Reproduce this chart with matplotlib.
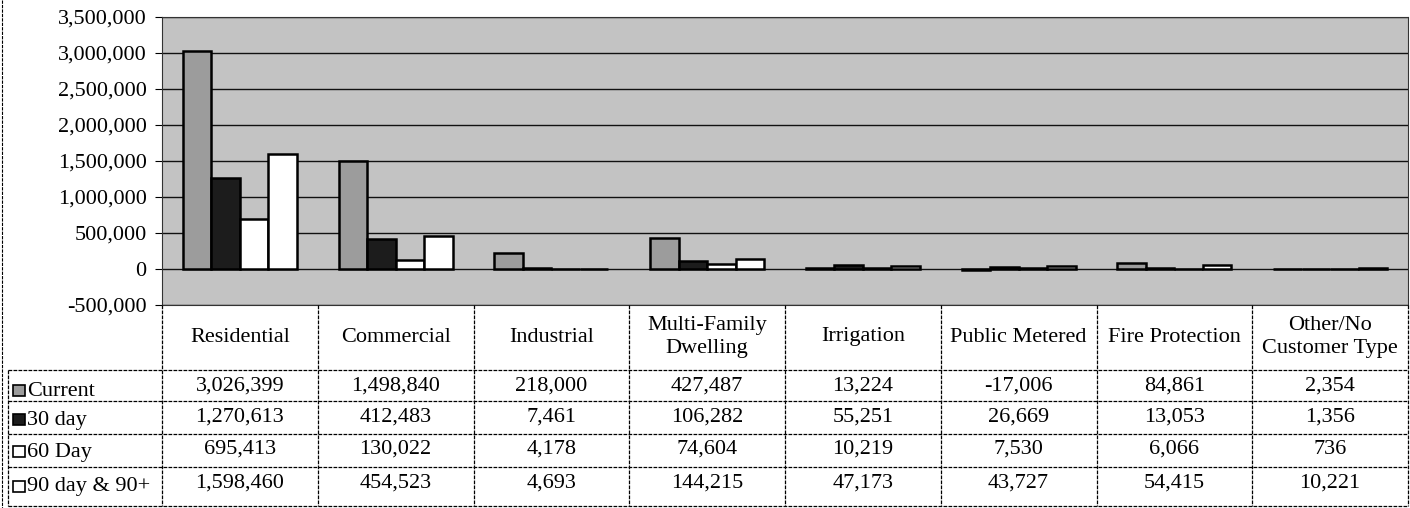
import matplotlib.pyplot as plt
import numpy as np
from matplotlib.patches import Rectangle
from matplotlib.lines import Line2D

# ---------------------------------------------------------------------
# Data.
# ---------------------------------------------------------------------

CATEGORIES = ["Residential", "Commercial", "Industrial", "Multi-Family\nDwelling",
              "Irrigation", "Public Metered", "Fire Protection",
              "Other/No\nCustomer Type"]
SERIES = ["Current", "30 day", "60 Day", "90 day & 90+"]

current = [3026399, 1498840, 218000, 427487, 13224, -17006, 84861, 2354]
day_30 = [1270613, 412483, 7461, 106282, 55251, 26669, 13053, 1356]
day_60 = [695413, 130022, 4178, 74604, 10219, 7530, 6066, 736]
day_90 = [1598460, 454523, 4693, 144215, 47173, 43727, 54415, 10221]

Y_TICKS = list(range(-500000, 3500001, 500000))

# Fill per series (grayscale print look).
FACES = ["#9c9c9c", "#1c1c1c", "#ffffff", "#ffffff"]

W, H = 1410, 508
FONT = "Liberation Serif"
FS = 16


def fx(x):
    return x / W


def fy(y):
    return 1 - y / H


fig = plt.figure(figsize=(W / 100, H / 100), dpi=100)
fig.patch.set_facecolor("white")

# plot area (pixel box)
L, R, T, B = 162, 1408, 17, 305
ax = fig.add_axes([fx(L), fy(B), fx(R) - fx(L), (B - T) / H])
ax.set_facecolor("#c3c3c3")

values = [current, day_30, day_60, day_90]
x = np.arange(len(CATEGORIES))
bw = 0.183
for j, vals in enumerate(values):
    ax.bar(x + (j - 1.5) * bw, vals, width=bw, color=FACES[j],
           edgecolor="black", linewidth=1.8, zorder=3)

ax.set_xlim(-0.5, len(CATEGORIES) - 0.5)
ax.set_ylim(-500000, 3500000)
ax.set_yticks(Y_TICKS)
ax.set_yticklabels([f"{v:,}" for v in Y_TICKS], fontsize=FS, family=FONT)
ax.set_xticks([])
ax.tick_params(axis="y", length=5, width=0.8, pad=6)
ax.yaxis.grid(True, color="#111111", linewidth=1.0, zorder=1)
ax.set_axisbelow(True)
for s in ax.spines.values():
    s.set_color("#333333")
    s.set_linewidth(0.8)
    s.set_linestyle((0, (2, 1)))

# ---------------------------------------------------------------------
# Data table under the chart.
# ---------------------------------------------------------------------
ncol = len(CATEGORIES)
colw = (R - L) / ncol
LEG_L = 8
ROW_Y = [370, 401, 434, 467, 506]
VAL_Y = [386, 417, 449, 483]
LAB_Y = [391, 420, 452, 487]


def hline(y, x0, x1, lw=0.9):
    fig.add_artist(Line2D([fx(x0), fx(x1)], [fy(y), fy(y)], color="black",
                          linewidth=lw, linestyle=(0, (3, 1))))


def vline(xp, y0, y1, lw=0.9):
    fig.add_artist(Line2D([fx(xp), fx(xp)], [fy(y0), fy(y1)], color="black",
                          linewidth=lw, linestyle=(0, (3, 1))))


# outer left border of the chart
vline(2, 0, H, lw=0.8)

# header row columns
for c in range(ncol + 1):
    vline(L + c * colw, B, ROW_Y[-1])
vline(LEG_L, ROW_Y[0], ROW_Y[-1])
for y in ROW_Y:
    hline(y, LEG_L, R)

for c, name in enumerate(CATEGORIES):
    cx = L + (c + 0.5) * colw
    fig.text(fx(cx), fy(337), name, ha="center", va="center",
             fontsize=FS, family=FONT, linespacing=1.35)

for r, (name, vals) in enumerate(zip(SERIES, values)):
    # legend swatch
    sw = Rectangle((fx(13), fy(LAB_Y[r] + 5)), 12 / W, 11 / H,
                   transform=fig.transFigure, facecolor=FACES[r],
                   edgecolor="black", linewidth=1.2)
    fig.add_artist(sw)
    fig.text(fx(27), fy(LAB_Y[r]), name, ha="left", va="center",
             fontsize=FS, family=FONT)
    for c, v in enumerate(vals):
        cx = L + (c + 0.5) * colw
        fig.text(fx(cx), fy(VAL_Y[r]), f"{v:,}", ha="center", va="center",
                 fontsize=FS, family=FONT)

fig.savefig("out.png", dpi=100)
